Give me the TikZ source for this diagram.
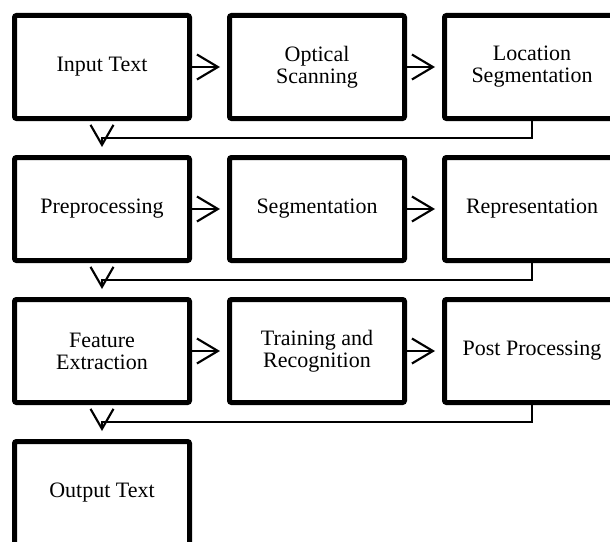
\documentclass[tikz,border=0pt]{standalone}
\usepackage{fontspec}
\setmainfont{Liberation Serif}
\usetikzlibrary{arrows.meta,positioning}

\begin{document}
\begin{tikzpicture}[
    node distance=25.5pt and 26.25pt,
    every node/.style={font=\fontsize{16.5}{16.5}\selectfont},
    box/.style={draw, line width=3.75pt, rounded corners=1.5pt, align=center, minimum width=131.25pt, minimum height=77.25pt, inner sep=0pt},
    flow/.style={-{Straight Barb[length=15.75pt, width=18.75pt, line width=1.6pt]}, line width=1.5pt, shorten >=5.25pt},
    back/.style={-{Straight Barb[length=15pt, width=17.25pt, line width=1.6pt]}, line width=1.5pt}
]
\useasboundingbox (0,0) rectangle (457.5pt,-406.5pt);
\node[box] (input) at (76.5pt,-50.25pt) {Input Text};
\node[box, right=of input] (optical) {Optical\\Scanning};
\node[box, right=of optical] (location) {Location\\Segmentation};
\node[box, below=of input] (pre) {Preprocessing};
\node[box, right=of pre] (seg) {Segmentation};
\node[box, right=of seg] (rep) {Representation};
\node[box, below=of pre] (feature) {Feature\\Extraction};
\node[box, right=of feature] (train) {Training and\\Recognition};
\node[box, right=of train] (post) {Post Processing};
\node[box, below=of feature] (output) {Output Text};
\draw[flow] (input) -- (optical);
\draw[flow] (optical) -- (location);
\draw[flow] (pre) -- (seg);
\draw[flow] (seg) -- (rep);
\draw[flow] (feature) -- (train);
\draw[flow] (train) -- (post);
\draw[back] (location.south) |- ([yshift=12.75pt]pre.north) -- ([yshift=6pt]pre.north);
\draw[back] (rep.south) |- ([yshift=12.75pt]feature.north) -- ([yshift=6pt]feature.north);
\draw[back] (post.south) |- ([yshift=12.75pt]output.north) -- ([yshift=6pt]output.north);
\end{tikzpicture}
\end{document}
